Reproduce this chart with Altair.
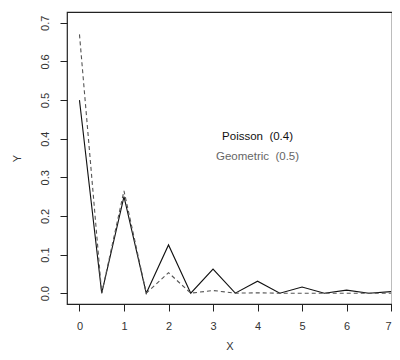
import altair as alt
import pandas as pd

x_vals = [0, 0.5, 1, 1.5, 2, 2.5, 3, 3.5, 4, 4.5, 5, 5.5, 6, 6.5, 7]
geometric = [0.5, 0, 0.25, 0, 0.125, 0, 0.0625, 0, 0.031, 0, 0.016, 0, 0.008, 0, 0.004]
poisson = [0.67, 0, 0.265, 0, 0.053, 0, 0.007, 0, 0.001, 0, 0.0, 0, 0.0, 0, 0.0]
x_ticks = [0, 1, 2, 3, 4, 5, 6, 7]
y_ticks = [0.0, 0.1, 0.2, 0.3, 0.4, 0.5, 0.6, 0.7]
labels = ["Poisson\u00a0 (0.4)", "Geometric\u00a0 (0.5)"]
label_x = [4.0, 4.0]
label_y = [0.404, 0.352]
label_colors = ["#111111", "#666666"]

df = pd.DataFrame({
    "x": x_vals * 2,
    "y": geometric + poisson,
    "series": ["geo"] * len(x_vals) + ["poi"] * len(x_vals),
})
lab = pd.DataFrame({"x": label_x, "y": label_y, "text": labels, "c": label_colors})

xs = alt.Scale(domain=[-0.28, 7.02], nice=False, zero=False)
ys = alt.Scale(domain=[-0.028, 0.728], nice=False, zero=False)

xaxis = alt.Axis(values=x_ticks, format="d", title="X", grid=False, tickSize=7,
                 labelPadding=9, titlePadding=9, domain=False)
yaxis = alt.Axis(values=y_ticks, format=".1f", title="Y", grid=False, tickSize=7,
                 labelAngle=270, labelAlign="center", labelBaseline="bottom",
                 labelPadding=10, titleX=-50, titleBaseline="middle", domain=False)

base = alt.Chart(df)
solid = base.transform_filter(alt.datum.series == "geo").mark_line(
    color="#111111", strokeWidth=1.1
).encode(x=alt.X("x:Q", scale=xs, axis=xaxis), y=alt.Y("y:Q", scale=ys, axis=yaxis))
dashed = base.transform_filter(alt.datum.series == "poi").mark_line(
    color="#555555", strokeWidth=1.1, strokeDash=[4, 3]
).encode(x=alt.X("x:Q", scale=xs), y=alt.Y("y:Q", scale=ys))
text = alt.Chart(lab).mark_text(fontSize=11.5, font="Liberation Sans").encode(
    x=alt.X("x:Q", scale=xs), y=alt.Y("y:Q", scale=ys), text="text:N",
    color=alt.Color("c:N", scale=None)
)

chart = alt.layer(solid, dashed, text).properties(
    width=325, height=292,
    background="white",
    autosize=alt.AutoSizeParams(type="none"),
    padding={"left": 59, "top": 4, "right": 0, "bottom": 48},
).configure_view(stroke="#222222", strokeWidth=1.2).configure_axis(
    labelFont="Liberation Sans", titleFont="Liberation Sans", labelFontSize=11,
    titleFontSize=11, titleFontWeight="normal", labelColor="#333333",
    titleColor="#333333", tickColor="#222222", tickWidth=1
)

chart.save("out.html", embed_options={"renderer": "svg", "actions": False})
